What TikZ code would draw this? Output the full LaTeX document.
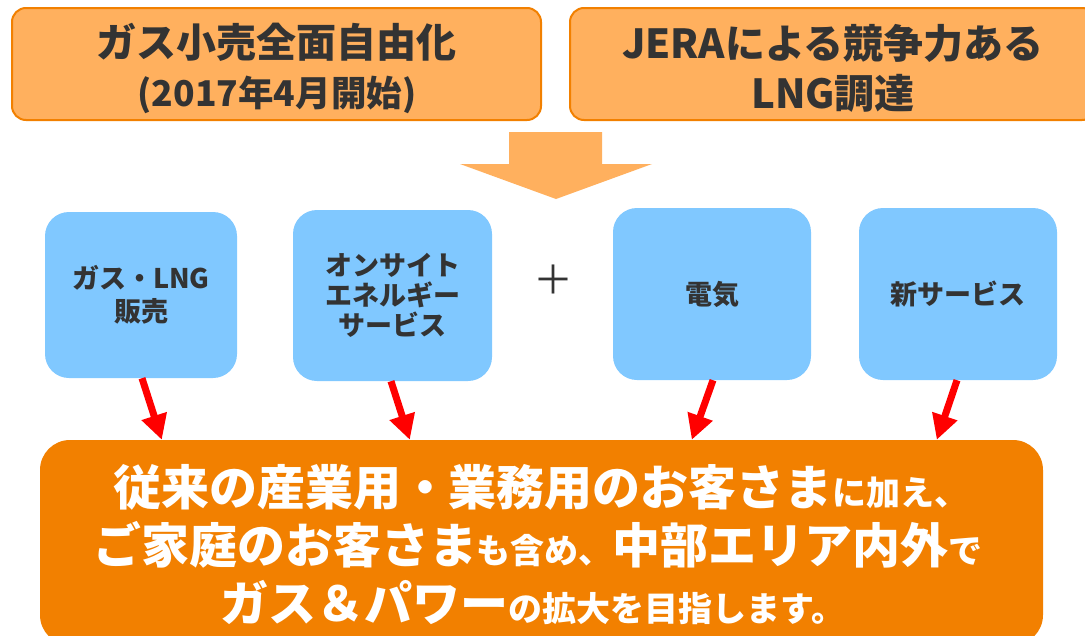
\documentclass[tikz,border=0pt]{standalone}
\usepackage{fontspec}
\setmainfont{Noto Sans CJK JP}
\usetikzlibrary{arrows.meta}
\definecolor{lorange}{RGB}{255,176,94}
\definecolor{dorange}{RGB}{242,128,0}
\definecolor{lblue}{RGB}{128,200,255}
\definecolor{txt}{RGB}{51,51,51}
\definecolor{ared}{RGB}{255,0,0}
\newcommand\bgt[1]{{\fontsize{48}{50}\selectfont #1}}
\newcommand\sml[1]{{\fontsize{34}{40}\selectfont #1}}
\tikzset{
  topbox/.style={draw=dorange, line width=2pt, fill=lorange, rounded corners=14pt, inner sep=0pt},
  bluebox/.style={fill=lblue, rounded corners=24pt, inner sep=0pt},
  botbox/.style={fill=dorange, rounded corners=30pt, inner sep=0pt},
  redarr/.style={draw=ared, line width=7pt, -{Triangle[width=25pt,length=25pt]}},
  toptxt/.style={text=txt, font=\bfseries, anchor=base, inner sep=0pt},
  bluetxt/.style={text=txt, font=\bfseries\fontsize{27}{33}\selectfont, align=center},
  bottxt/.style={text=white, font=\bfseries, anchor=base, inner sep=0pt},
}
\begin{document}
\begin{tikzpicture}[x=1pt,y=-1pt]
\useasboundingbox (0,0) rectangle (1085,635);
\fill[white] (0,0) rectangle (1085,635);

% top boxes
\node[topbox, minimum width=529pt, minimum height=112pt] (tl) at (276.5,64) {};
\node[toptxt, font=\bfseries\fontsize{40}{44}\selectfont] (tla) at (276.5,57) {ガス小売全面自由化};
\node[toptxt, font=\bfseries\fontsize{35.5}{40}\selectfont] (tlb) at (277,106) {(2017年4月開始)};

\node[topbox, minimum width=526pt, minimum height=112pt] (tr) at (833,64) {};
\node[toptxt, font=\bfseries\fontsize{40}{44}\selectfont] (tra) at (833,58) {JERAによる競争力ある};
\node[toptxt, font=\bfseries\fontsize{40}{44}\selectfont] (trb) at (833,108) {LNG調達};

% block arrow
\fill[lorange] (509,132) -- (602,132) -- (602,164) -- (652,164) -- (556,199) -- (460,164) -- (509,164) -- cycle;

% blue boxes
\node[bluebox, bluetxt, minimum width=192pt, minimum height=166pt] (b1) at (141,295) {ガス・LNG\\販売};
\node[bluebox, bluetxt, minimum width=199pt, minimum height=171pt] (b2) at (392.5,295.5) {オンサイト\\[-3pt]エネルギー\\[-3pt]サービス};
\node[text=txt, font=\fontsize{40}{40}\selectfont, inner sep=0pt] (plus) at (553,280) {＋};
\node[bluebox, bluetxt, minimum width=198pt, minimum height=172pt] (b3) at (712,294) {電気};
\node[bluebox, bluetxt, minimum width=198pt, minimum height=172pt] (b4) at (958,294) {新サービス};

% bottom box
\node[botbox, minimum width=1003pt, minimum height=205pt] (bot) at (541.5,542.5) {};
\node[bottxt] (l1) at (541,505) {\bgt{従来の産業用・業務用のお客さま}\sml{に加え、}};
\node[bottxt] (l2) at (538,563) {\bgt{ご家庭のお客さま}\sml{も含め、}\bgt{中部エリア内外}\sml{で}};
\node[bottxt] (l3) at (533,621) {\bgt{ガス＆パワー}\sml{の拡大を目指します。}};

% red arrows
\draw[redarr] ([xshift=1pt]b1.south) -- ([xshift=122pt]bot.north west);
\draw[redarr] ([xshift=-1.5pt]b2.south) -- ([xshift=370pt]bot.north west);
\draw[redarr] ([xshift=1pt]b3.south) -- ([xshift=652pt]bot.north west);
\draw[redarr] ([xshift=-1pt]b4.south) -- ([xshift=897pt]bot.north west);
\end{tikzpicture}
\end{document}
